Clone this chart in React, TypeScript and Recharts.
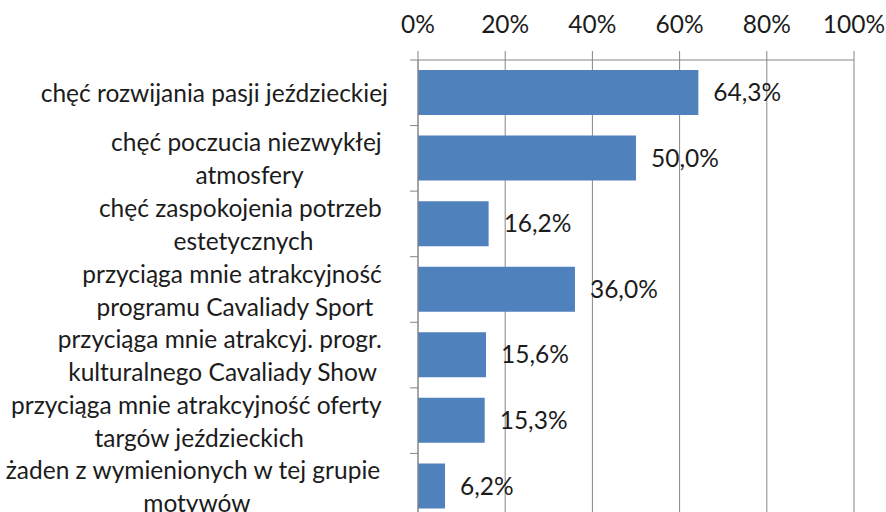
import React from "react";
import { BarChart, Bar, XAxis, YAxis, CartesianGrid, LabelList } from "recharts";

// Motives, answers in % of respondents
const categories = [
  "chęć rozwijania pasji jeździeckiej",
  "chęć poczucia niezwykłej\natmosfery",
  "chęć zaspokojenia potrzeb\nestetycznych",
  "przyciąga mnie atrakcyjność\nprogramu Cavaliady Sport",
  "przyciąga mnie atrakcyj. progr.\nkulturalnego Cavaliady Show",
  "przyciąga mnie atrakcyjność oferty\ntargów jeździeckich",
  "żaden z wymienionych w tej grupie\nmotywów",
];
const values = [64.3, 50.0, 16.2, 36.0, 15.6, 15.3, 6.2];
const xTicks = [0, 20, 40, 60, 80, 100];

const data = categories.map((name, i) => ({ name, value: values[i] }));

const FONT = "Lato, 'Open Sans', sans-serif";
const FONT_SIZE = 24.5;
const TEXT = "#1c1c1c";
const GRID = "#868686";
const BAR = "#4f81bd";
const LINE_H = 33;

let ctx: CanvasRenderingContext2D | null = null;
function measure(s: string): number {
  if (!ctx) {
    ctx = document.createElement("canvas").getContext("2d");
    if (ctx) ctx.font = `${FONT_SIZE}px Lato`;
  }
  return ctx ? ctx.measureText(s).width : s.length * FONT_SIZE * 0.5;
}

function CategoryTick(props: any) {
  const { x = 0, y = 0, payload } = props;
  if (!payload) return null;
  const lines: string[] = String(payload.value).split("\n");
  const half = payload.offset ?? 0;
  // wrapped lines keep their trailing space, like Excel does
  const widths = lines.map((l, i) => measure(i < lines.length - 1 ? l + " " : l));
  const blockW = Math.max(...widths);
  const right = x - 30;
  const center = right - blockW / 2;
  const top = y - ((lines.length - 1) * LINE_H) / 2;
  return (
    <g>
      <line x1={x - 8} x2={x} y1={y - half} y2={y - half} stroke={GRID} />
      {lines.map((l, i) => (
        <text
          key={i}
          x={center - widths[i] / 2}
          y={top + i * LINE_H}
          dominantBaseline="central"
          fill={TEXT}
          style={{ fontFamily: FONT, fontSize: FONT_SIZE }}
        >
          {l}
        </text>
      ))}
    </g>
  );
}

const fmt = (v: any) => `${Number(v).toFixed(1).replace(".", ",")}%`;

export default function App() {
  return (
    <div
      style={{
        position: "fixed",
        top: 0,
        left: 0,
        width: 886,
        height: 512,
        overflow: "hidden",
        background: "#fff",
      }}
    >
      <BarChart
        width={886}
        height={519}
        data={data}
        layout="vertical"
        margin={{ top: 0, right: 32, bottom: 0, left: 0 }}
      >
        <CartesianGrid horizontal={false} stroke={GRID} />
        <XAxis
          type="number"
          orientation="top"
          domain={[0, 100]}
          ticks={xTicks}
          tickFormatter={(v) => `${v}%`}
          height={60}
          tickSize={9}
          tickMargin={18}
          axisLine={{ stroke: GRID }}
          tickLine={{ stroke: GRID }}
          tick={{ fill: TEXT, fontFamily: FONT, fontSize: FONT_SIZE }}
        />
        <YAxis
          type="category"
          dataKey="name"
          width={418}
          tickSize={0}
          tickMargin={0}
          tickLine={false}
          axisLine={{ stroke: GRID }}
          tick={<CategoryTick />}
          interval={0}
        />
        <Bar dataKey="value" fill={BAR} barSize={45} isAnimationActive={false}>
          <LabelList
            dataKey="value"
            position="right"
            offset={15}
            formatter={fmt}
            fill={TEXT}
            style={{ fontFamily: FONT, fontSize: FONT_SIZE }}
          />
        </Bar>
      </BarChart>
    </div>
  );
}
